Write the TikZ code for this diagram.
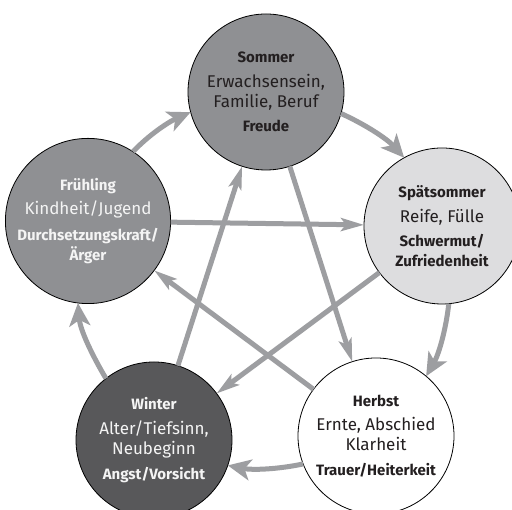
\documentclass[tikz,border=0pt]{standalone}
\usepackage{fontspec}
\setmainfont{Fira Sans}
\usetikzlibrary{arrows.meta}
\definecolor{arrowgray}{RGB}{157,158,161}
\definecolor{midgray}{RGB}{143,144,147}
\definecolor{lightgray}{RGB}{221,221,223}
\definecolor{darkgray}{RGB}{88,88,90}
\definecolor{darktext}{RGB}{35,31,32}
\definecolor{lighttext}{RGB}{244,244,244}
\newcommand{\ttlf}{\bfseries\fontsize{15}{20}\selectfont}
\tikzset{
  season/.style={circle, draw=black, line width=0.8pt, minimum size=156pt,
    inner sep=0pt, outer sep=0pt, align=center,
    font=\fontsize{17}{20}\selectfont},
  arcarrow/.style={draw=arrowgray, line width=5pt,
    -{Stealth[length=23pt,width=21pt,inset=6pt]}},
  strarrow/.style={draw=arrowgray, line width=5pt,
    -{Stealth[length=23pt,width=13pt,inset=5pt]}}
}
\begin{document}
\begin{tikzpicture}[x=1pt,y=1pt]
\clip (0,0) rectangle (512,510);
\fill[white] (0,0) rectangle (512,510);

\node[season, fill=midgray, text=darktext] (so) at (266,418)
  {{\ttlf Sommer}\\[5pt]Erwachsensein,\\Familie, Beruf\\[4pt]{\ttlf Freude}};
\node[season, fill=lightgray, text=darktext] (sp) at (442,284)
  {{\ttlf Spätsommer}\\[5pt]Reife, Fülle\\[4pt]{\ttlf Schwermut/}\\{\ttlf Zufriedenheit}};
\node[season, fill=white, text=darktext] (he) at (376,74)
  {{\ttlf Herbst}\\[4pt]Ernte, Abschied\\Klarheit\\[5pt]{\ttlf Trauer/Heiterkeit}};
\node[season, fill=darkgray, text=lighttext] (wi) at (154,70)
  {{\ttlf Winter}\\[5pt]Alter/Tiefsinn,\\Neubeginn\\[5pt]{\ttlf Angst/Vorsicht}};
\node[season, fill=midgray, text=lighttext] (fr) at (88,289)
  {{\ttlf Frühling}\\[4pt]Kindheit/Jugend\\[6pt]{\ttlf Durchsetzungskraft/}\\{\ttlf Ärger}};

% outer cycle
\draw[arcarrow] (fr.57.6) to[out=46.7, in=203.7, looseness=0.86] (so.195.3);
\draw[arcarrow] (so.344.1) to[out=-24.3, in=132.1, looseness=0.86] (sp.119.9);
\draw[arcarrow] (sp.275.8) to[out=-96.3, in=60, looseness=0.86] (he.50.1);
\draw[arcarrow] (he.201.8) to[out=-168, in=-11.3, looseness=0.86] (wi.341.2);
\draw[arcarrow] (wi.128.3) to[out=120.7, in=274.7, looseness=0.86] (fr.263.8);

% inner pentagram
\draw[strarrow] (fr) -- (sp);
\draw[strarrow] (so) -- (he);
\draw[strarrow] (sp) -- (wi);
\draw[strarrow] (he) -- (fr);
\draw[strarrow] (wi) -- (so);
\end{tikzpicture}
\end{document}
